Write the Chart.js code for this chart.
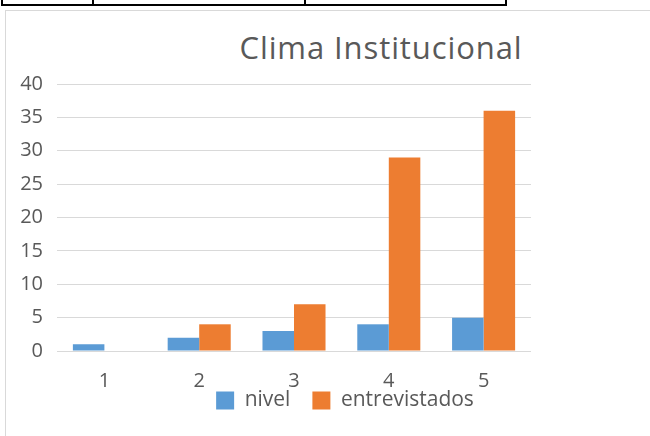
<!DOCTYPE html>
<html>
<head>
<meta charset="utf-8">
<script src="https://cdn.jsdelivr.net/npm/chart.js@4/dist/chart.umd.min.js"></script>
<style>
    body { margin: 0; width: 650px; height: 436px; overflow: hidden; background: #fff; position: relative; font-family: "Open Sans", sans-serif; }
    .tbl { position: absolute; left: 1px; top: -2px; width: 502px; height: 4px; border: 2px solid #000; }
    .tbl-col { position: absolute; top: 0; width: 2px; height: 6px; background: #000; }
    .frame { position: absolute; left: 5px; top: 10px; width: 700px; height: 500px; border: 1px solid #d9d9d9; }
    .title { position: absolute; left: 181px; width: 400px; top: 27px; text-align: center; font-size: 31px; letter-spacing: 0.9px; line-height: 40px; color: #595959; }
    #wrap { position: absolute; left: 0; top: 10px; }
</style>
</head>
<body>
<div class="tbl"></div>
<div class="tbl-col" style="left:92px"></div>
<div class="tbl-col" style="left:304px"></div>
<div class="frame"></div>
<div class="title">Clima Institucional</div>
<div id="wrap"><canvas id="chart" width="690" height="446"></canvas></div>
<script>
    // valores
    const categories = ["1", "2", "3", "4", "5"];
    const nivel = [1, 2, 3, 4, 5];
    const entrevistados = [0, 4, 7, 29, 36];
    const yMax = 40;
    const yStep = 5;

    const textColor = "#595959";
    const tickFont = { family: "'Open Sans', sans-serif", size: 20 };
    const legendFont = { family: "'Open Sans', sans-serif", size: 21 };

    // la leyenda de Excel queda pegada a las etiquetas del eje x
    const legendLift = {
        id: "legendLift",
        afterLayout(chart) {
            const lg = chart.legend;
            if (!lg) return;
            lg.top -= 35;
            lg.bottom -= 35;
        }
    };

    new Chart(document.getElementById("chart").getContext("2d"), {
        type: "bar",
        data: {
            labels: categories,
            datasets: [
                { label: "nivel", data: nivel, backgroundColor: "#5b9bd5", categoryPercentage: 0.665, barPercentage: 1 },
                { label: "entrevistados", data: entrevistados, backgroundColor: "#ed7d31", categoryPercentage: 0.665, barPercentage: 1 }
            ]
        },
        plugins: [legendLift],
        options: {
            responsive: false,
            animation: false,
            layout: { padding: { top: 74, left: 0, right: 0, bottom: 0 } },
            plugins: {
                title: { display: false },
                tooltip: { enabled: false },
                legend: {
                    position: "bottom",
                    labels: { boxWidth: 18, boxHeight: 18, padding: 22, color: textColor, font: legendFont }
                }
            },
            scales: {
                x: {
                    grid: { display: false },
                    border: { display: false },
                    ticks: { color: textColor, font: tickFont, padding: 10 }
                },
                y: {
                    min: 0,
                    max: yMax,
                    grid: { color: "#d9d9d9", lineWidth: 1, drawTicks: false },
                    border: { display: false },
                    ticks: { stepSize: yStep, color: textColor, font: tickFont, padding: 14 },
                    afterFit: (s) => { s.width = 57; }
                },
                yR: {
                    position: "right",
                    grid: { display: false },
                    border: { display: false },
                    ticks: { display: false },
                    afterFit: (s) => { s.width = 159; }
                }
            }
        }
    });
</script>
</body>
</html>
